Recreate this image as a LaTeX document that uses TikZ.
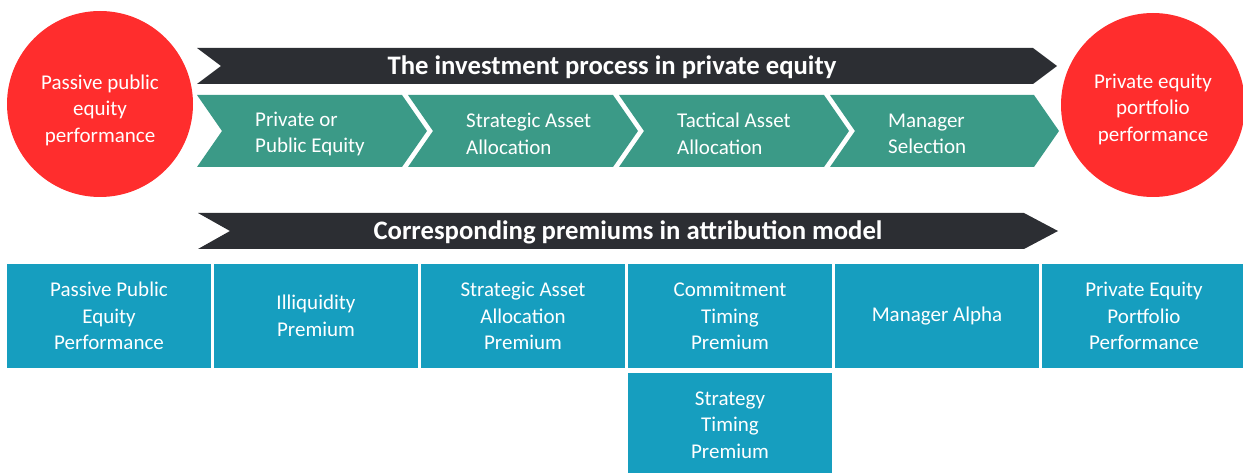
\documentclass[tikz,border=0pt]{standalone}
\usepackage{fontspec}
\setmainfont{Carlito}
\usepackage{xcolor}
\usepackage{tikz}
\usetikzlibrary{positioning}

\definecolor{peRed}{HTML}{FF2D2D}
\definecolor{peDark}{HTML}{2C2E33}
\definecolor{peGreen}{HTML}{3B9A87}
\definecolor{peBlue}{HTML}{169EBF}

\begin{document}
\begin{tikzpicture}[
  x=1pt, y=-1pt,
  node distance=3pt,
  roundnode/.style={circle, fill=peRed, minimum size=186pt, inner sep=0pt},
  roundtext/.style={text=white, inner sep=0pt, align=center, font=\fontsize{21}{26.5}\selectfont},
  headtext/.style={text=white, inner sep=0pt, font=\fontsize{26.7}{30}\selectfont\bfseries},
  steptext/.style={text=white, anchor=west, align=left, inner sep=0pt,
                   font=\fontsize{21}{26.5}\selectfont},
  premiumbox/.style={rectangle, fill=peBlue, text=white, minimum width=204pt, minimum height=104pt,
                     inner sep=0pt, outer sep=0pt, align=center, font=\fontsize{21}{26.5}\selectfont}
]
  \useasboundingbox (0,0) rectangle (1243,473);

  % banner on top
  \fill[peDark] (197,48) -- (1033,48) -- (1057,66) -- (1033,84) -- (197,84) -- (221,66) -- cycle;
  \node[headtext] (process) at (612,67.5) {The investment process in private equity};

  % the four steps
  \fill[peGreen] (197,95) -- (402,95) -- (427,131) -- (402,167) -- (197,167) -- (222,131) -- cycle;
  \fill[peGreen] (408,95) -- (613,95) -- (638,131) -- (613,167) -- (408,167) -- (433,131) -- cycle;
  \fill[peGreen] (619,95) -- (824,95) -- (849,131) -- (824,167) -- (619,167) -- (644,131) -- cycle;
  \fill[peGreen] (830,95) -- (1034,95) -- (1059,131) -- (1034,167) -- (830,167) -- (855,131) -- cycle;
  \node[steptext] (S1) at (255,134) {Private or\\Public Equity};
  \node[steptext] (S2) at (466,134) {Strategic Asset\\Allocation};
  \node[steptext] (S3) at (677,134) {Tactical Asset\\Allocation};
  \node[steptext] (S4) at (888,134) {Manager\\Selection};

  % start and end
  \node[roundnode] (start) at (100,104) {};
  \node[roundnode, minimum size=184pt] (end) at (1153,105) {};
  \node[roundtext] (startText) at (100,110) {Passive public\\equity\\performance};
  \node[roundtext] (endText) at (1153,109) {Private equity\\portfolio\\performance};

  % second banner
  \fill[peDark] (198,213) -- (1024,213) -- (1058,231) -- (1024,249) -- (198,249) -- (230,231) -- cycle;
  \node[headtext] (premiums) at (628,232.5) {Corresponding premiums in attribution model};

  % premiums
  \node[premiumbox] (P1) at (109,316) {Passive Public\\Equity\\Performance};
  \node[premiumbox] (P2) [right=of P1] {Illiquidity\\Premium};
  \node[premiumbox] (P3) [right=of P2] {Strategic Asset\\Allocation\\Premium};
  \node[premiumbox] (P4) [right=of P3] {Commitment\\Timing\\Premium};
  \node[premiumbox] (P5) [right=of P4] {Manager Alpha};
  \node[premiumbox] (P6) [right=of P5] {Private Equity\\Portfolio\\Performance};
  \node[premiumbox] (P7) [below=5pt of P4] {Strategy\\Timing\\Premium};
\end{tikzpicture}
\end{document}
